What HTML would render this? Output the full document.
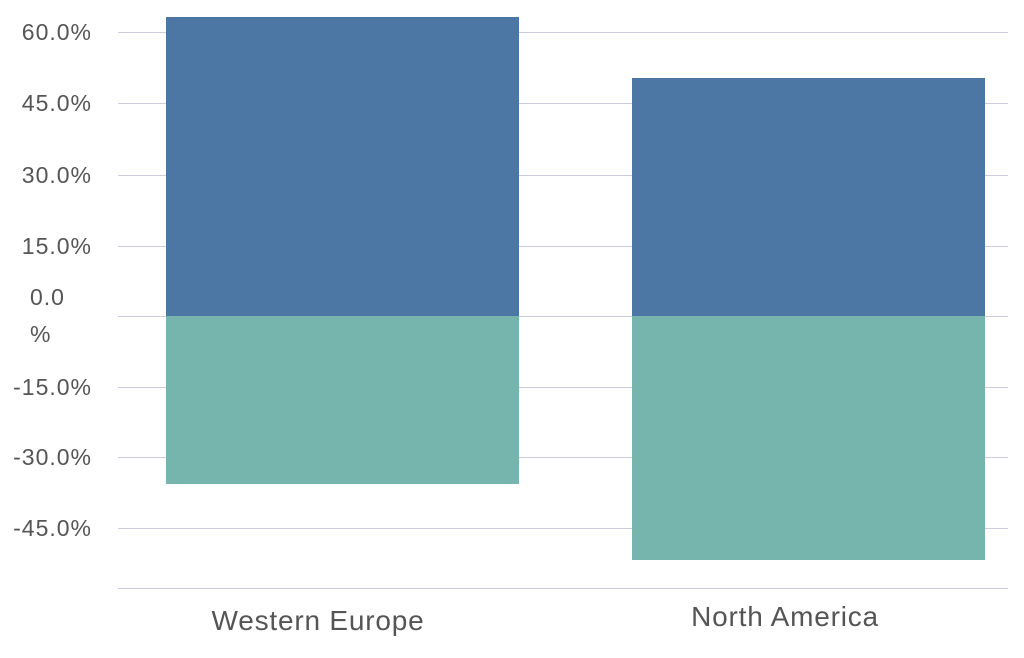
<!DOCTYPE html>
<html><head><style>
body{margin:0;background:#fff;width:1024px;height:658px;overflow:hidden;position:relative;font-family:"Liberation Sans",sans-serif;}
.g{position:absolute;left:118px;width:890px;height:1px;background:#ccccdc;}
.l{position:absolute;right:932px;font-size:23px;letter-spacing:1px;color:#555;text-align:right;line-height:24px;}
.b{position:absolute;}
.x{position:absolute;font-size:28px;letter-spacing:0.8px;color:#555;text-align:center;width:400px;}
</style></head><body>
<div class="g" style="top:32px"></div>
<div class="g" style="top:103px"></div>
<div class="g" style="top:175px"></div>
<div class="g" style="top:246px"></div>
<div class="g" style="top:316px"></div>
<div class="g" style="top:387px"></div>
<div class="g" style="top:457px"></div>
<div class="g" style="top:528px"></div>
<div class="g" style="top:588px"></div>
<div class="b" style="left:166px;top:17px;width:353px;height:299px;background:#4c77a5"></div>
<div class="b" style="left:166px;top:316px;width:353px;height:168px;background:#76b4ae"></div>
<div class="b" style="left:632px;top:78px;width:353px;height:238px;background:#4c77a5"></div>
<div class="b" style="left:632px;top:316px;width:353px;height:244px;background:#76b4ae"></div>
<div class="l" style="top:20px">60.0%</div>
<div class="l" style="top:91px">45.0%</div>
<div class="l" style="top:163px">30.0%</div>
<div class="l" style="top:234px">15.0%</div>
<div class="l" style="top:285px;right:auto;left:30px">0.0</div>
<div class="l" style="top:322px;right:auto;left:30px">%</div>
<div class="l" style="top:375px">-15.0%</div>
<div class="l" style="top:445px">-30.0%</div>
<div class="l" style="top:516px">-45.0%</div>
<div class="x" style="left:118px;top:605px">Western Europe</div>
<div class="x" style="left:585px;top:601px">North America</div>
</body></html>
